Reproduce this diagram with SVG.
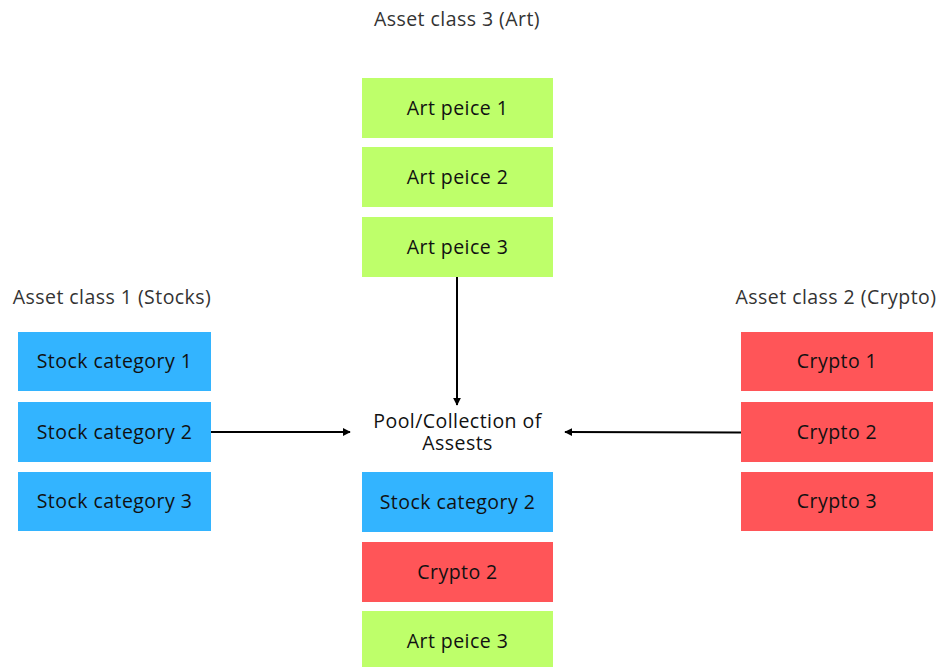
<svg xmlns="http://www.w3.org/2000/svg" width="941" height="667" viewBox="0 0 941 667">
<style>
text{font-family:"Open Sans","Liberation Sans",Arial,sans-serif;font-size:19.5px;letter-spacing:0.45px;fill:#111;text-anchor:middle;dominant-baseline:central}
.h{fill:#333}
.b{fill:#33B4FF}
.r{fill:#FF5558}
.g{fill:#BEFF6A}
.c{stroke:#000;stroke-width:2;fill:none;marker-end:url(#ah)}
</style>
<defs>
<marker id="ah" viewBox="0 0 10 10" refX="9" refY="5" markerWidth="4" markerHeight="4" orient="auto"><path d="M0,0L10,5L0,10z" fill="#000"/></marker>
</defs>
<rect width="941" height="667" fill="#fff"/>
<text class="h" x="457" y="18">Asset class 3 (Art)</text>
<text class="h" x="112" y="296">Asset class 1 (Stocks)</text>
<text class="h" x="836" y="296">Asset class 2 (Crypto)</text>
<g id="art1"><rect class="g" x="362" y="78" width="191" height="60"/><text x="457.5" y="107">Art peice 1</text></g>
<g id="art2"><rect class="g" x="362" y="147" width="191" height="60"/><text x="457.5" y="176">Art peice 2</text></g>
<g id="art3"><rect class="g" x="362" y="217" width="191" height="60"/><text x="457.5" y="246">Art peice 3</text></g>
<g id="stock1"><rect class="b" x="18" y="332" width="193" height="59"/><text x="114.5" y="360.5">Stock category 1</text></g>
<g id="stock2"><rect class="b" x="18" y="402" width="193" height="60"/><text x="114.5" y="431">Stock category 2</text></g>
<g id="stock3"><rect class="b" x="18" y="472" width="193" height="59"/><text x="114.5" y="500.5">Stock category 3</text></g>
<g id="crypto1"><rect class="r" x="741" y="332" width="192" height="59"/><text x="837" y="360.5">Crypto 1</text></g>
<g id="crypto2"><rect class="r" x="741" y="402" width="192" height="60"/><text x="837" y="431">Crypto 2</text></g>
<g id="crypto3"><rect class="r" x="741" y="472" width="192" height="59"/><text x="837" y="500.5">Crypto 3</text></g>
<g id="pool"><text x="457.5" y="420"><tspan x="457.5" y="420">Pool/Collection of</tspan><tspan x="457.5" y="442">Assests</tspan></text></g>
<g id="pool-stock2"><rect class="b" x="362" y="472" width="191" height="60"/><text x="457.5" y="501">Stock category 2</text></g>
<g id="pool-crypto2"><rect class="r" x="362" y="542" width="191" height="60"/><text x="457.5" y="571">Crypto 2</text></g>
<g id="pool-art3"><rect class="g" x="362" y="611" width="191" height="60"/><text x="457.5" y="640">Art peice 3</text></g>
<g id="connectors">
<line class="c" x1="457" y1="277" x2="457" y2="405"/>
<line class="c" x1="211" y1="432" x2="350" y2="432"/>
<line class="c" x1="741" y1="432.5" x2="565" y2="432"/>
</g>
</svg>
